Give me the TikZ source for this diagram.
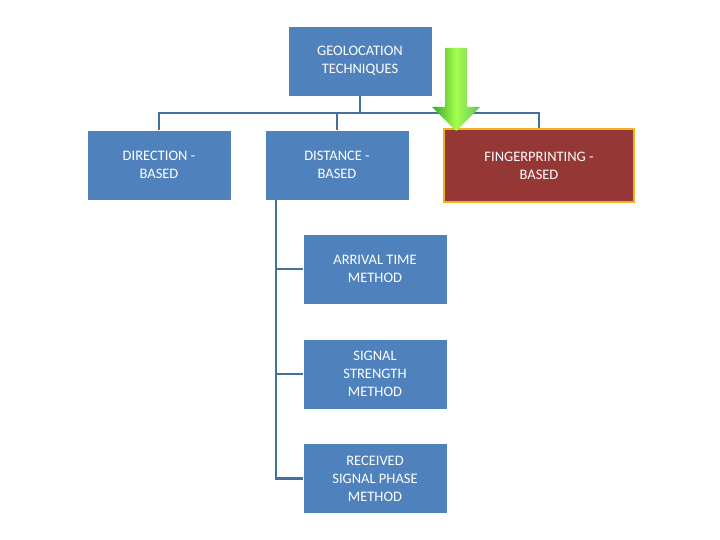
\documentclass[tikz,border=0pt]{standalone}
\usepackage{fontspec}
\setmainfont{Carlito}
\usetikzlibrary{shapes.arrows}
\begin{document}
\begin{tikzpicture}[x=1pt,y=-1pt,
 box/.style={draw=white,line width=0.8pt,fill=boxblue,text=white,minimum width=144pt,minimum height=70pt,align=center,inner sep=1pt,font=\fontsize{14.5}{18}\selectfont},
 ln/.style={draw=lineblue,line width=2.5pt}]
\definecolor{boxblue}{HTML}{4F81BD}
\definecolor{lineblue}{HTML}{41719C}
\definecolor{redbox}{HTML}{953735}
\definecolor{gold}{HTML}{F0B020}
\useasboundingbox (0,0) rectangle (720,540);
\node[box] (top) at (360,61) {GEOLOCATION\\TECHNIQUES};
\node[box] (dir) at (159,165) {DIRECTION -\\BASED};
\node[box] (dist) at (337,165) {DISTANCE -\\BASED};
\node[box,fill=redbox,draw=gold,line width=2.5pt,minimum width=190pt,minimum height=73pt] (fp) at (539,165.5) {FINGERPRINTING -\\BASED};
\node[box] (arr) at (375,269) {ARRIVAL TIME\\METHOD};
\node[box] (sig) at (375,374) {SIGNAL\\STRENGTH\\METHOD};
\node[box] (rec) at (375,478.5) {RECEIVED\\SIGNAL PHASE\\METHOD};
\coordinate (hub) at (360,113);
\draw[ln] (top.south) -- (hub);
\draw[ln] (dir.north) |- (hub) -| (fp.north);
\draw[ln] (dist.north) -- (dist.north |- hub);
\coordinate (trunk) at (276,200);
\draw[ln] (trunk) |- (rec.west);
\draw[ln] (trunk |- arr.west) -- (arr.west);
\draw[ln] (trunk |- sig.west) -- (sig.west);
\shade[left color=green!55!black!80,right color=green!60!black!60,middle color=green!50!yellow!70]
 (445,48) -- (467,48) -- (467,107) -- (480,107) -- (456,131) -- (432,107) -- (445,107) -- cycle;
\end{tikzpicture}
\end{document}
